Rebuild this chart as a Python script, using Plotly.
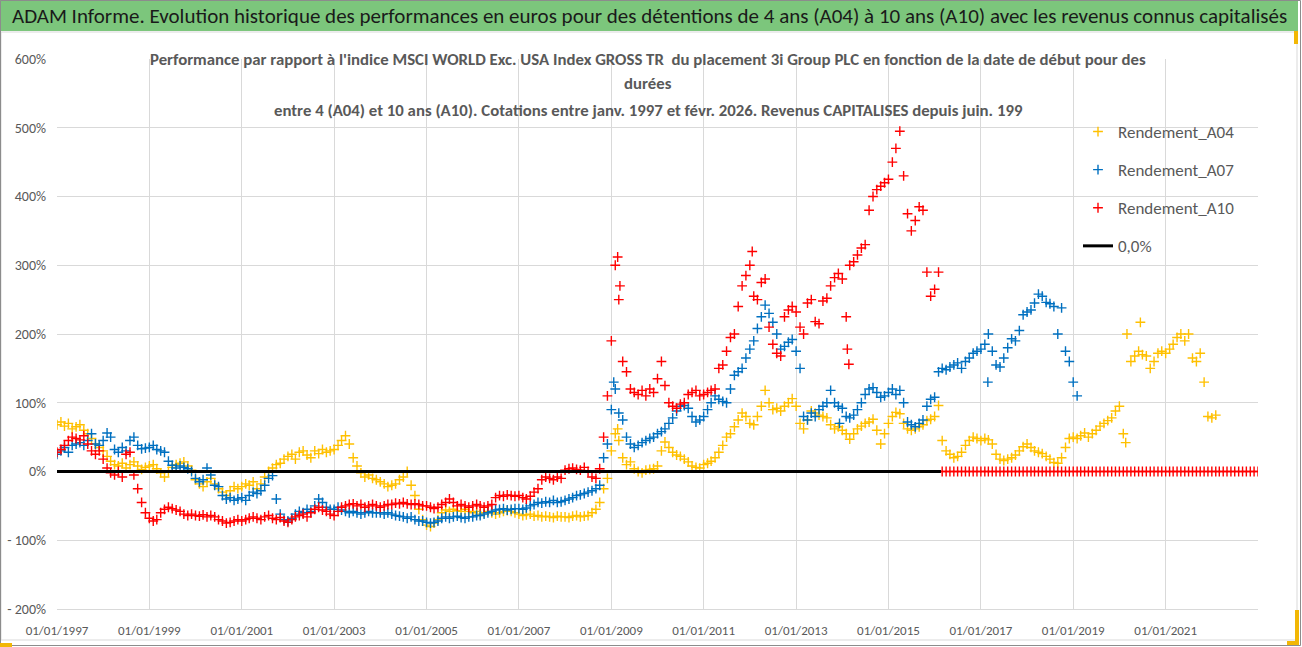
import plotly.graph_objects as go
import pandas as pd

# ---------------- DATA (percent values) ----------------
A04_START = "1997-01-01"
A04_VALUES = [
    68, 72, 66, 70, 62, 65, 68, 60, 55, 48, 40, 35,            # 1997
    30, 22, 15, 10, 8, 12, 5, 10, 14, 8, 3, 6,                 # 1998
    8, 10, 4, -2, -8, 0, 6, 10, 12, 14, 8, 2,                  # 1999
    -12, -18, -22, -15, -10, -18, -25, -30, -35, -28, -22, -25,  # 2000
    -22, -18, -20, -15, -25, -18, -8, 0, 5, 10, 12, 18,        # 2001
    22, 25, 18, 28, 30, 24, 20, 30, 26, 32, 28, 30,            # 2002
    32, 38, 45, 52, 40, 20, 8, -2, -8, -5, -10, -12,           # 2003
    -15, -18, -22, -20, -18, -12, -8, 0, -20, -35, -55, -70,   # 2004
    -78, -80, -75, -70, -60, -56, -58, -55, -57, -58, -55, -58,  # 2005
    -60, -58, -62, -60, -58, -60, -62, -60, -58, -57, -58, -60,  # 2006
    -62, -64, -63, -62, -65, -64, -66, -65, -66, -67, -65, -66,  # 2007
    -66, -67, -65, -64, -66, -65, -64, -60, -55, -45, -25, -10,  # 2008
    30, 55, 45, 20, 10, 14, 4, 0, -2, 2, 3, 4,                 # 2009
    8, 30, 43, 35, 28, 24, 22, 18, 14, 8, 6, 5,                # 2010
    10, 12, 15, 20, 28, 38, 50, 55, 65, 75, 85, 80,            # 2011
    70, 68, 80, 95, 118, 100, 90, 92, 88, 95, 100, 106,        # 2012
    95, 70, 62, 75, 88, 85, 82, 80, 78, 68, 62, 65,            # 2013
    60, 55, 47, 55, 62, 66, 70, 72, 76, 60, 40, 55,            # 2014
    70, 80, 86, 84, 70, 62, 60, 62, 65, 68, 74, 76,            # 2015
    80, 96, 45, 30, 25, 20, 22, 28, 38, 45, 50, 48,            # 2016
    45, 48, 46, 40, 25, 18, 16, 18, 20, 24, 30, 36,            # 2017
    40, 35, 30, 28, 26, 22, 18, 13, 12, 20, 35, 48,            # 2018
    50, 48, 52, 56, 50, 55, 60, 66, 70, 74, 78, 88,            # 2019
    95, 55, 200, 160, 168, 175, 170, 168, 150, 160, 172, 175,  # 2020
    172, 178, 185, 195, 200, 190, 200, 165, 160, 172, 130, 80,  # 2021
    78, 82,                                                    # 2022
]
A04_EXTRA_DATES = ["2020-06-15", "2020-02-20", "2009-02-20"]
A04_EXTRA_VALUES = [217, 42, 62]

A07_START = "1997-01-01"
A07_VALUES = [
    25, 30, 35, 28, 38, 40, 42, 38, 45, 55, 40, 38,            # 1997
    45, 56, 50, 32, 28, 35, 30, 45, 50, 38, 33, 34,            # 1998
    35, 38, 32, 30, 28, 15, 9, 5, 8, 6, 4, 0,                  # 1999
    -10, -15, -12, 5, -5, -20, -22, -35, -40, -38, -42, -40,   # 2000
    -38, -42, -35, -30, -32, -28, -20, -10, -6, -40, -62, -70,  # 2001
    -72, -68, -62, -58, -60, -55, -58, -50, -40, -45, -52, -55,  # 2002
    -55, -52, -56, -58, -60, -58, -60, -62, -60, -58, -60, -60,  # 2003
    -60, -62, -60, -62, -64, -65, -66, -68, -66, -70, -72, -72,  # 2004
    -74, -75, -74, -72, -68, -66, -68, -66, -65, -67, -68, -66,  # 2005
    -66, -64, -64, -62, -60, -58, -56, -55, -54, -56, -55, -54,  # 2006
    -54, -55, -53, -50, -48, -45, -46, -44, -45, -42, -45, -44,  # 2007
    -42, -40, -38, -35, -34, -32, -30, -28, -25, -20, 20, 40,  # 2008
    90, 120, 85, 75, 50, 40, 35, 38, 42, 45, 48, 50,           # 2009
    55, 58, 62, 70, 78, 88, 95, 96, 92, 80, 72, 75,            # 2010
    80, 90, 100, 110, 105, 102, 100, 120, 140, 145, 150, 165,  # 2011
    178, 190, 208, 225, 242, 230, 217, 200, 178, 182, 188, 192,  # 2012
    175, 150, 80, 75, 85, 80, 90, 95, 100, 118, 100, 95,       # 2013
    92, 80, 78, 82, 90, 100, 112, 120, 122, 115, 108, 110,     # 2014
    115, 120, 112, 118, 100, 72, 68, 65, 70, 75, 95, 105,      # 2015
    108, 145, 150, 148, 152, 155, 158, 150, 160, 165, 172, 175,  # 2016
    178, 185, 200, 175, 155, 152, 165, 180, 193, 190, 205, 228,  # 2017
    232, 235, 245, 258, 255, 246, 244, 240, 200, 238, 175, 160,  # 2018
    130, 110,                                                  # 2019
]
A07_EXTRA_DATES = ["2017-02-25", "2009-01-20", "2013-12-10"]
A07_EXTRA_VALUES = [130, 130, 70]

A10_START = "1997-01-01"
A10_VALUES = [
    28, 32, 38, 45, 50, 48, 46, 52, 40, 30, 25, 30,            # 1997
    18, 5, -2, -5, 0, -8, 25, 28, -5, -25, -45, -60,           # 1998
    -68, -72, -70, -60, -55, -52, -54, -56, -58, -62, -64, -62,  # 1999
    -64, -65, -63, -66, -64, -66, -70, -72, -75, -74, -72, -70,  # 2000
    -72, -70, -68, -66, -68, -70, -66, -64, -68, -70, -67, -72,  # 2001
    -74, -70, -66, -64, -62, -66, -60, -55, -52, -56, -58, -62,  # 2002
    -64, -58, -52, -50, -48, -47, -50, -48, -52, -50, -48, -50,  # 2003
    -52, -50, -48, -48, -46, -47, -45, -47, -48, -47, -48, -50,  # 2004
    -50, -52, -54, -52, -48, -45, -40, -45, -50, -48, -50, -52,  # 2005
    -50, -48, -50, -52, -50, -48, -38, -35, -36, -34, -35, -36,  # 2006
    -35, -38, -40, -36, -30, -25, -12, -8, -10, -12, -8, -10,  # 2007
    2, 4, 5, 3, 2, 6, 0, -8, -10, 4, 50, 110,                  # 2008
    190, 300, 250, 160, 145, 120, 115, 112, 118, 110, 120, 115,  # 2009
    135, 160, 125, 100, 95, 92, 98, 100, 112, 115, 118, 110,   # 2010
    112, 115, 118, 120, 150, 155, 175, 195, 200, 240, 270, 285,  # 2011
    300, 255, 250, 275, 280, 210, 185, 172, 168, 225, 235, 240,  # 2012
    232, 210, 200, 245, 250, 218, 215, 248, 252, 270, 282, 288,  # 2013
    280, 225, 300, 305, 315, 325, 330, 380, 400, 410, 415, 420,  # 2014
    425, 450, 470, 495, 430, 375, 350, 365, 385, 380, 290, 255,  # 2015
    265, 290,                                                  # 2016
]
A10_EXTRA_DATES = ["2014-02-10", "2014-02-22", "2009-02-20", "2012-01-20", "2009-03-10"]
A10_EXTRA_VALUES = [178, 156, 312, 320, 270]

A10_ZERO_START = "2016-03-01"
A10_ZERO_VALUES = [
    0, 0, 0, 0, 0, 0, 0, 0, 0, 0,
    0, 0, 0, 0, 0, 0, 0, 0, 0, 0, 0, 0,
    0, 0, 0, 0, 0, 0, 0, 0, 0, 0, 0, 0,
    0, 0, 0, 0, 0, 0, 0, 0, 0, 0, 0, 0,
    0, 0, 0, 0, 0, 0, 0, 0, 0, 0, 0, 0,
    0, 0, 0, 0, 0, 0, 0, 0, 0, 0, 0, 0,
    0, 0, 0, 0, 0, 0, 0, 0, 0, 0, 0, 0,
    0,
]

ZERO_LINE_DATES = ["1997-01-01", "2016-02-20"]
ZERO_LINE_VALUES = [0, 0]

SERIES_NAMES = ["Rendement_A04", "Rendement_A07", "Rendement_A10", "0,0%"]

X_TICK_DATES = ["1997-01-01", "1999-01-01", "2001-01-01", "2003-01-01", "2005-01-01",
                "2007-01-01", "2009-01-01", "2011-01-01", "2013-01-01", "2015-01-01",
                "2017-01-01", "2019-01-01", "2021-01-01"]
X_TICK_LABELS = ["01/01/1997", "01/01/1999", "01/01/2001", "01/01/2003", "01/01/2005",
                 "01/01/2007", "01/01/2009", "01/01/2011", "01/01/2013", "01/01/2015",
                 "01/01/2017", "01/01/2019", "01/01/2021"]
Y_TICKS = [-200, -100, 0, 100, 200, 300, 400, 500, 600]
Y_TICK_LABELS = ["- 200%", "- 100%", "0%", "100%", "200%", "300%", "400%", "500%", "600%"]

HEADER_TEXT = ("ADAM Informe. Evolution historique des performances en euros pour des "
               "détentions de 4 ans (A04) à 10 ans (A10) avec les revenus connus capitalisés")
TITLE_LINES = [
    "Performance par rapport à l'indice MSCI WORLD Exc. USA Index GROSS TR  du placement 3i Group PLC en fonction de la date de début pour des",
    "durées",
    "entre 4 (A04) et 10 ans (A10). Cotations entre janv. 1997 et févr. 2026. Revenus CAPITALISES depuis juin. 199",
]

# ---------------- STYLE / LAYOUT ----------------
W, H = 1302, 647
L, R, T, B = 57, 1258, 59, 609
FONT = "Carlito, 'Liberation Sans Narrow', 'DejaVu Sans Condensed', 'Open Sans', sans-serif"
GRAY = "#595959"
GRID = "#D9D9D9"


def px_x(p):
    return (p - L) / (R - L)


def px_y(p):
    return (B - p) / (B - T)


def monthly(start, n):
    return pd.date_range(start, periods=n, freq="MS")


fig = go.Figure()

series = [
    (SERIES_NAMES[0], A04_START, A04_VALUES, A04_EXTRA_DATES, A04_EXTRA_VALUES, "#FFC000"),
    (SERIES_NAMES[1], A07_START, A07_VALUES, A07_EXTRA_DATES, A07_EXTRA_VALUES, "#0070C0"),
    (SERIES_NAMES[2], A10_START, A10_VALUES, A10_EXTRA_DATES, A10_EXTRA_VALUES, "#FF0000"),
]
for name, start, vals, xd, xv, col in series:
    xs = list(monthly(start, len(vals))) + list(pd.to_datetime(xd))
    ys = list(vals) + list(xv)
    if name == SERIES_NAMES[2]:
        xs += list(monthly(A10_ZERO_START, len(A10_ZERO_VALUES)))
        ys += list(A10_ZERO_VALUES)
    fig.add_trace(go.Scatter(
        x=xs, y=ys, mode="markers", name=name, legendgroup=name,
        marker=dict(symbol="cross-thin", size=7, color=col,
                    line=dict(color=col, width=1.4)),
    ))

fig.add_trace(go.Scatter(
    x=pd.to_datetime(ZERO_LINE_DATES), y=ZERO_LINE_VALUES, mode="lines",
    name=SERIES_NAMES[3], legendgroup=SERIES_NAMES[3],
    line=dict(color="black", width=3),
))

shapes = [
    # green header band
    dict(type="rect", xref="paper", yref="paper",
         x0=px_x(0), x1=px_x(1298), y0=px_y(31), y1=px_y(0),
         fillcolor="#7CC67C", line=dict(width=0), layer="below"),
    # outer frame
    dict(type="rect", xref="paper", yref="paper",
         x0=px_x(0.5), x1=px_x(1300.5), y0=px_y(645.5), y1=px_y(0.5),
         fillcolor="rgba(0,0,0,0)", line=dict(color="#8C8C8C", width=1), layer="above"),
    # inner chart-area border
    dict(type="rect", xref="paper", yref="paper",
         x0=px_x(1), x1=px_x(1297), y0=px_y(640), y1=px_y(32),
         fillcolor="rgba(0,0,0,0)", line=dict(color="#D9D9D9", width=1), layer="below"),
    # white title box over gridlines
    dict(type="rect", xref="paper", yref="paper",
         x0=px_x(115), x1=px_x(1142), y0=px_y(125), y1=px_y(45),
         fillcolor="white", line=dict(width=0), layer="between"),
    # white legend box over gridlines
    dict(type="rect", xref="paper", yref="paper",
         x0=px_x(1062), x1=px_x(1290), y0=px_y(263), y1=px_y(124),
         fillcolor="white", line=dict(width=0), layer="between"),
    # selection handle marks
    dict(type="rect", xref="paper", yref="paper",
         x0=px_x(1294), x1=px_x(1298), y0=px_y(44), y1=px_y(31),
         fillcolor="#F2B705", line=dict(width=0), layer="above"),
    dict(type="rect", xref="paper", yref="paper",
         x0=px_x(1295), x1=px_x(1299), y0=px_y(645), y1=px_y(610),
         fillcolor="#F2B705", line=dict(width=0), layer="above"),
    dict(type="rect", xref="paper", yref="paper",
         x0=px_x(1287), x1=px_x(1299), y0=px_y(645), y1=px_y(641),
         fillcolor="#F2B705", line=dict(width=0), layer="above"),
    dict(type="rect", xref="paper", yref="paper",
         x0=px_x(0), x1=px_x(12), y0=px_y(647), y1=px_y(643),
         fillcolor="#F2B705", line=dict(width=0), layer="above"),
]

annotations = [
    dict(text=HEADER_TEXT, xref="paper", yref="paper", x=px_x(649), y=px_y(16),
         xanchor="center", yanchor="middle", showarrow=False,
         font=dict(family=FONT, size=21, color="#1A1A1A")),
]
for line, py in zip(TITLE_LINES, [59, 84, 110]):
    annotations.append(dict(
        text="<b>" + line + "</b>", xref="paper", yref="paper",
        x=px_x(648), y=px_y(py), xanchor="center", yanchor="middle", showarrow=False,
        font=dict(family=FONT, size=16.8, color=GRAY)))

fig.update_layout(
    width=W, height=H,
    margin=dict(l=L, r=W - R, t=T, b=H - B, pad=0),
    paper_bgcolor="white", plot_bgcolor="white",
    font=dict(family=FONT, color=GRAY, size=13),
    showlegend=True,
    legend=dict(x=px_x(1078), y=px_y(114), xanchor="left", yanchor="top",
                bgcolor="rgba(0,0,0,0)", font=dict(family=FONT, size=17, color=GRAY),
                tracegroupgap=13, itemwidth=30, traceorder="grouped"),
    shapes=shapes,
    annotations=annotations,
    xaxis=dict(type="date", range=["1997-01-01", "2023-01-01"], automargin=False,
               tickmode="array", tickvals=X_TICK_DATES, ticktext=X_TICK_LABELS,
               showgrid=True, gridcolor=GRID, gridwidth=1,
               showline=True, linecolor=GRID, linewidth=1,
               zeroline=False, ticks="", ticklabelstandoff=9,
               tickfont=dict(family=FONT, size=13, color=GRAY)),
    yaxis=dict(range=[-200, 600], tickmode="array", tickvals=Y_TICKS, ticktext=Y_TICK_LABELS,
               automargin=False,
               showgrid=True, gridcolor=GRID, gridwidth=1, zeroline=False,
               showline=False, ticks="", ticklabelstandoff=10,
               tickfont=dict(family=FONT, size=14, color=GRAY)),
)

fig.write_html("out.html", config={"displayModeBar": False},
               post_script="document.body.style.margin='0px';")
